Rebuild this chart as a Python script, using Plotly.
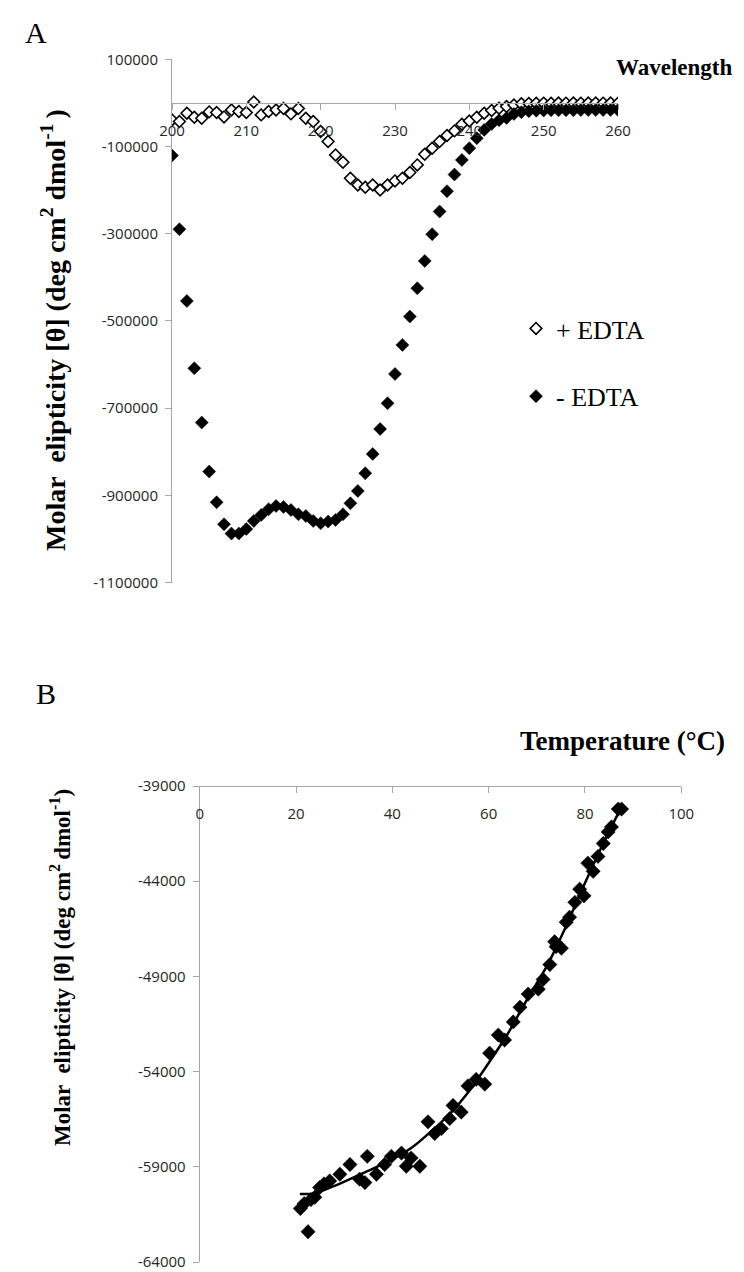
import plotly.graph_objects as go

# ---------------- Panel A data ----------------
wavelength = list(range(200, 261))
plus_edta = [
    -39000, -42700, -23600, -32800, -35100, -20600, -22000, -32100, -16100, -19700,
    -22000, 2000, -27500, -19700, -16100, -12800, -25200, -12800, -35100, -42700,
    -65600, -88500, -119300, -136000, -172700, -188100, -193400, -188100, -199600, -188100,
    -178900, -172700, -159700, -142200, -117700, -103900, -88500, -74800, -64200, -48900,
    -41300, -32800, -23600, -17400, -12200, -8300, -4600, -2000, -1200, -800,
    -500, -600, -400, -500, -300, -500, -400, -300, -500, -400, -600,
]
minus_edta = [
    -120700, -289700, -454200, -608600, -733200, -845600, -916000, -966500, -987800, -987800,
    -977200, -958900, -945100, -932000, -924500, -926800, -933700, -943500, -947400, -958900,
    -964200, -960300, -956600, -943500, -918300, -890100, -849500, -805200, -747900, -688900,
    -621700, -555100, -490000, -425100, -362500, -301200, -249100, -202600, -164200, -130800,
    -103900, -81000, -61900, -48200, -39700, -34400, -25200, -21300, -19000, -18000,
    -17500, -17000, -17000, -16800, -16800, -16500, -16500, -16500, -16300, -16300, -16300,
]
a_xticks = [200, 210, 220, 230, 240, 250, 260]
a_yticks = [100000, -100000, -300000, -500000, -700000, -900000, -1100000]

# ---------------- Panel B data ----------------
temp_pts = [
    20.9, 21.7, 22.5, 23.1, 23.9, 24.9, 25.8, 27.0, 29.1, 31.2,
    33.2, 34.3, 34.8, 36.7, 38.4, 39.8, 41.9, 42.9, 43.9, 45.7,
    47.4, 48.8, 50.2, 51.9, 52.6, 54.3, 55.7, 57.4, 59.2, 60.2,
    62.0, 63.3, 65.1, 66.5, 68.2, 70.3, 71.3, 72.7, 73.7, 74.0,
    75.1, 76.1, 76.8, 77.9, 78.9, 79.8, 80.6, 81.7, 82.7, 83.8,
    84.8, 85.5, 86.9, 87.6,
]
theta_pts = [
    -61190, -60930, -62410, -60720, -60600, -60090, -59900, -59740, -59390, -58880,
    -59650, -59830, -58450, -59390, -58880, -58450, -58280, -58970, -58540, -58970,
    -56640, -57250, -56990, -56470, -55780, -56130, -54750, -54410, -54660, -53030,
    -52080, -52340, -51390, -50620, -49930, -49670, -49160, -48380, -47180, -47440,
    -47520, -46150, -45890, -45110, -44420, -44770, -43050, -43480, -42700, -42020,
    -41410, -41150, -40210, -40210,
]
temp_fit = [20.8, 23.9, 28, 32, 36, 40, 44, 48, 52, 56, 60, 64, 68, 72, 76, 80, 84, 87.6]
theta_fit = [-60430, -60400, -60000, -59550, -59100, -58600, -58000, -57150, -56200, -55000,
             -53550, -52000, -50200, -48500, -46400, -44100, -41900, -40100]
b_xticks = [0, 20, 40, 60, 80, 100]
b_yticks = [-39000, -44000, -49000, -54000, -59000, -64000]

# ---------------- Layout geometry ----------------
W, H = 744, 1272
def fx(p):
    return p / W
def fy(p):
    return 1 - p / H

A_xdom = [fx(164), fx(610)]
A_ydom = [fy(574.5), fy(51.3)]
A_xrange = [200, 260]
A_yrange = [-1100000, 100000]
B_xdom = [fx(191.7), fx(673.3)]
B_ydom = [fy(1254), fy(778)]
B_xrange = [0, 100]
B_yrange = [-64000, -39000]

# x-axis of panel A crosses at y = 0
a_cross = A_ydom[0] + (0 - A_yrange[0]) / (A_yrange[1] - A_yrange[0]) * (A_ydom[1] - A_ydom[0])

AXC = "#a6a6a6"
TICKFONT = dict(family="Open Sans", size=15, color="#262626")
SERIF = "Liberation Serif"

fig = go.Figure()

fig.add_trace(go.Scatter(
    x=wavelength, y=plus_edta, mode="markers", name="+ EDTA",
    legendgroup="a", xaxis="x", yaxis="y",
    marker=dict(symbol="diamond", size=9, color="white", line=dict(color="black", width=1.6)),
))
fig.add_trace(go.Scatter(
    x=wavelength, y=minus_edta, mode="markers", name="- EDTA",
    legendgroup="b", xaxis="x", yaxis="y",
    marker=dict(symbol="diamond", size=10, color="black", line=dict(color="black", width=0.5)),
))
fig.add_trace(go.Scatter(
    x=temp_fit, y=theta_fit, mode="lines", showlegend=False,
    xaxis="x2", yaxis="y2",
    line=dict(color="black", width=2.5, shape="spline", smoothing=0.6),
))
fig.add_trace(go.Scatter(
    x=temp_pts, y=theta_pts, mode="markers", showlegend=False,
    xaxis="x2", yaxis="y2",
    marker=dict(symbol="diamond", size=11, color="black", line=dict(color="black", width=0.5)),
))

common_x = dict(showgrid=False, zeroline=False, showline=True, linecolor=AXC, linewidth=1,
                ticks="outside", tickcolor=AXC, ticklen=6, tickwidth=1, tickfont=TICKFONT,
                ticklabelstandoff=8, automargin=False, side="bottom")
common_y = dict(showgrid=False, zeroline=False, showline=True, linecolor=AXC, linewidth=1,
                ticks="outside", tickcolor=AXC, ticklen=6, tickwidth=1, tickfont=TICKFONT,
                ticklabelstandoff=4, automargin=False)

fig.update_layout(
    width=W, height=H, template="none",
    paper_bgcolor="white", plot_bgcolor="rgba(0,0,0,0)",
    margin=dict(l=0, r=0, t=0, b=0),
    xaxis=dict(domain=A_xdom, range=A_xrange, anchor="free", position=a_cross,
               tickvals=a_xticks, ticktext=[str(v) for v in a_xticks], **common_x),
    yaxis=dict(domain=A_ydom, range=A_yrange, anchor="x",
               tickvals=a_yticks, ticktext=[str(v) for v in a_yticks], **common_y),
    xaxis2=dict(domain=B_xdom, range=B_xrange, anchor="free", position=B_ydom[1],
                tickvals=b_xticks, ticktext=[str(v) for v in b_xticks], **common_x),
    yaxis2=dict(domain=B_ydom, range=B_yrange, anchor="x2",
                tickvals=b_yticks, ticktext=[str(v) for v in b_yticks], **common_y),
    showlegend=True,
    legend=dict(x=fx(508), y=fy(297), xanchor="left", yanchor="top",
                font=dict(family=SERIF, size=26, color="black"),
                bgcolor="rgba(0,0,0,0)", tracegroupgap=31, traceorder="grouped",
                itemsizing="trace"),
)

ann = [
    dict(text="A", x=fx(28), y=fy(25), font=dict(family=SERIF, size=30, color="black")),
    dict(text="B", x=fx(38), y=fy(685), font=dict(family=SERIF, size=30, color="black")),
    dict(text="<b>Wavelength</b>", x=fx(606), y=fy(60), xanchor="left",
         font=dict(family=SERIF, size=23, color="black")),
    dict(text="<b>Temperature (°C)</b>", x=fx(510), y=fy(733), xanchor="left",
         font=dict(family=SERIF, size=27, color="black")),
    dict(text="<b>Molar  elipticity [θ] (deg cm<sup>2</sup> dmol<sup>-1 </sup>)</b>",
         x=fx(45), y=fy(322), textangle=-90,
         font=dict(family=SERIF, size=28, color="black")),
    dict(text="<b>Molar  elipticity [θ] (deg cm<sup>2 </sup>dmol<sup>-1</sup>)</b>",
         x=fx(52), y=fy(960), textangle=-90,
         font=dict(family=SERIF, size=23, color="black")),
]
for a in ann:
    a.update(xref="paper", yref="paper", showarrow=False)
    a.setdefault("xanchor", "center")
    a.setdefault("yanchor", "middle")
fig.update_layout(annotations=ann)

fig.write_html("out.html")
